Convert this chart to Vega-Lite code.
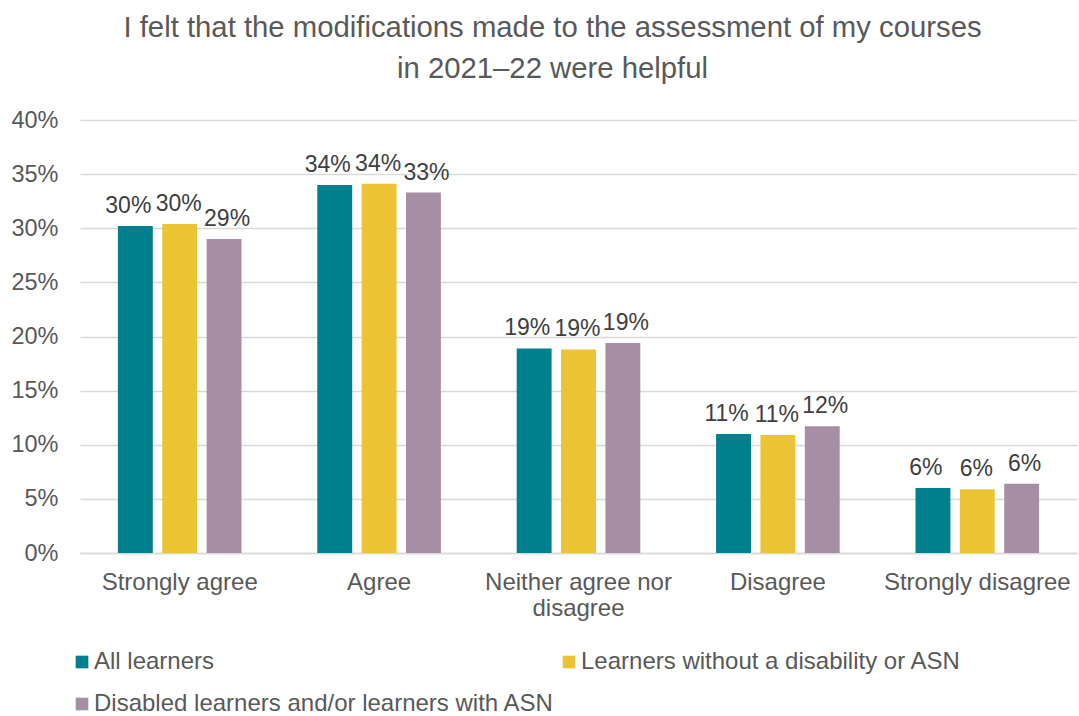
{
  "$schema": "https://vega.github.io/schema/vega-lite/v6.json",
  "autosize": {"type": "none"},
  "padding": {"left": 80, "top": 120, "right": 2, "bottom": 163},
  "width": 997,
  "height": 433,
  "title": {
    "text": ["I felt that the modifications made to the assessment of my courses", "in 2021\u201222 were helpful"],
    "font": "Liberation Sans",
    "fontSize": 29.3,
    "fontWeight": "normal",
    "color": "#595959",
    "anchor": "middle",
    "dx": -26,
    "offset": 24,
    "lineHeight": 41
  },
  "data": {
    "values": [
      {"response": "Strongly agree", "group": "All learners", "value": 0.302},
      {"response": "Strongly agree", "group": "Learners without a disability or ASN", "value": 0.304},
      {"response": "Strongly agree", "group": "Disabled learners and/or learners with ASN", "value": 0.290},
      {"response": "Agree", "group": "All learners", "value": 0.340},
      {"response": "Agree", "group": "Learners without a disability or ASN", "value": 0.341},
      {"response": "Agree", "group": "Disabled learners and/or learners with ASN", "value": 0.333},
      {"response": "Neither agree nor disagree", "group": "All learners", "value": 0.189},
      {"response": "Neither agree nor disagree", "group": "Learners without a disability or ASN", "value": 0.188},
      {"response": "Neither agree nor disagree", "group": "Disabled learners and/or learners with ASN", "value": 0.194},
      {"response": "Disagree", "group": "All learners", "value": 0.110},
      {"response": "Disagree", "group": "Learners without a disability or ASN", "value": 0.109},
      {"response": "Disagree", "group": "Disabled learners and/or learners with ASN", "value": 0.117},
      {"response": "Strongly disagree", "group": "All learners", "value": 0.060},
      {"response": "Strongly disagree", "group": "Learners without a disability or ASN", "value": 0.059},
      {"response": "Strongly disagree", "group": "Disabled learners and/or learners with ASN", "value": 0.064}
    ]
  },
  "encoding": {
    "x": {
      "field": "response",
      "type": "nominal",
      "sort": ["Strongly agree", "Agree", "Neither agree nor disagree", "Disagree", "Strongly disagree"],
      "scale": {"paddingInner": 0.38, "paddingOuter": 0.19},
      "axis": {
        "title": null,
        "labelAngle": 0,
        "labelFont": "Liberation Sans",
        "labelFontSize": 24,
        "labelColor": "#595959",
        "labelPadding": 17,
        "labelLineHeight": 26,
        "labelBaseline": "top",
        "labelLimit": 400,
        "ticks": false,
        "domainColor": "#D9D9D9",
        "domainWidth": 1.5,
        "labelExpr": "datum.value == 'Neither agree nor disagree' ? ['Neither agree nor', 'disagree'] : datum.value"
      }
    },
    "xOffset": {
      "field": "group",
      "type": "nominal",
      "sort": ["All learners", "Learners without a disability or ASN", "Disabled learners and/or learners with ASN"],
      "scale": {"paddingInner": 0.213, "paddingOuter": 0}
    },
    "y": {
      "field": "value",
      "type": "quantitative",
      "scale": {"domain": [0, 0.4], "nice": false},
      "axis": {
        "title": null,
        "values": [0, 0.05, 0.1, 0.15, 0.2, 0.25, 0.3, 0.35, 0.4],
        "format": ".0%",
        "labelFont": "Liberation Sans",
        "labelFontSize": 23.5,
        "labelColor": "#595959",
        "labelPadding": 22,
        "ticks": false,
        "domain": false,
        "gridColor": "#D9D9D9",
        "gridWidth": 1.5
      }
    }
  },
  "layer": [
    {
      "mark": {"type": "bar"},
      "encoding": {
        "color": {
          "field": "group",
          "type": "nominal",
          "scale": {
            "domain": ["All learners", "Learners without a disability or ASN", "Disabled learners and/or learners with ASN"],
            "range": ["#007F8C", "#EBC335", "#A68FA5"]
          },
          "legend": {
            "title": null,
            "orient": "none",
            "legendX": -10,
            "legendY": 530,
            "direction": "horizontal",
            "columns": 2,
            "columnPadding": 2,
            "rowPadding": 18,
            "symbolType": "square",
            "symbolSize": 160,
            "symbolStrokeWidth": 0,
            "labelFont": "Liberation Sans",
            "labelFontSize": 24,
            "labelColor": "#595959",
            "labelOffset": 0,
            "labelLimit": 600
          }
        }
      }
    },
    {
      "transform": [{"filter": "datum.group == 'All learners'"}],
      "mark": {"type": "text", "baseline": "alphabetic", "dy": -13, "dx": -7, "font": "Liberation Sans", "fontSize": 23, "color": "#404040"},
      "encoding": {
        "text": {"field": "value", "type": "quantitative", "format": ".0%"}
      }
    },
    {
      "transform": [{"filter": "datum.group == 'Learners without a disability or ASN'"}],
      "mark": {"type": "text", "baseline": "alphabetic", "dy": -13, "dx": -1, "font": "Liberation Sans", "fontSize": 23, "color": "#404040"},
      "encoding": {
        "text": {"field": "value", "type": "quantitative", "format": ".0%"}
      }
    },
    {
      "transform": [{"filter": "datum.group == 'Disabled learners and/or learners with ASN'"}],
      "mark": {"type": "text", "baseline": "alphabetic", "dy": -13, "dx": 3, "font": "Liberation Sans", "fontSize": 23, "color": "#404040"},
      "encoding": {
        "text": {"field": "value", "type": "quantitative", "format": ".0%"}
      }
    }
  ],
  "config": {"view": {"stroke": null}}
}
